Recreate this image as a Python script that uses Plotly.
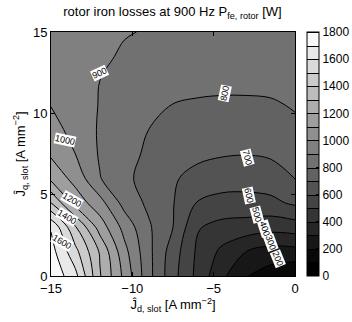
import plotly.graph_objects as go

# grid coordinates (A/mm^2)
jd = [-15, -13.5, -12, -10.5, -9, -7.5, -6, -4.5, -3, -1.5, 0]
jq = [0, 1.5, 3, 4.5, 6, 7.5, 9, 10.5, 12, 13.5, 15]

# rotor iron losses [W], one row per jq value
p_y00 = [1780, 1630, 1310, 1075, 833, 633, 473, 322, 205, 150, 110]
p_y15 = [1740, 1530, 1290, 1033, 827, 650, 483, 379, 300, 260, 265]
p_y30 = [1690, 1410, 1157, 967, 814, 700, 508, 467, 456, 437, 450]
p_y45 = [1400, 1160, 1037, 865, 780, 705, 595, 569, 567, 575, 618]
p_y60 = [1177, 1064, 905, 824, 762, 710, 671, 645, 642, 655, 702]
p_y75 = [1085, 1000, 890, 831, 785, 760, 720, 708, 703, 712, 739]
p_y90 = [1041, 962, 890, 847, 800, 775, 760, 750, 748, 755, 775]
p_y105 = [997, 957, 895, 867, 831, 797, 785, 780, 780, 785, 810]
p_y120 = [980, 950, 900, 880, 860, 845, 835, 830, 830, 835, 840]
p_y135 = [970, 945, 915, 890, 875, 862, 855, 850, 850, 852, 855]
p_y150 = [960, 940, 920, 905, 895, 880, 870, 865, 862, 862, 865]

# contour labels: value, jd, jq, angle
label_vals = [1600, 1400, 1200, 1000, 900, 800, 700, 600, 500, 400, 300, 200]
label_jd = [-14.32, -14.02, -13.71, -14.14, -11.99, -4.31, -2.95, -2.83, -2.34, -1.85, -1.48, -1.05]
label_jq = [2.09, 3.63, 4.67, 8.36, 12.48, 11.25, 7.31, 4.92, 3.75, 2.89, 2.03, 1.04]
label_ang = [30, 30, 30, 12, -25, -78, 75, 78, 75, 72, 70, 68]

z = [p_y00, p_y15, p_y30, p_y45, p_y60, p_y75, p_y90, p_y105, p_y120, p_y135, p_y150]

font = "Liberation Sans, Arial, sans-serif"

fig = go.Figure()
fig.add_trace(go.Contour(
    x=jd, y=jq, z=z,
    zmin=0, zmax=1800,
    colorscale=[[0, "black"], [1, "white"]],
    contours=dict(start=100, end=1800, size=100, coloring="fill"),
    line=dict(color="black", width=1, smoothing=1.0),
    colorbar=dict(
        x=1.049, xanchor="left", xpad=0, y=0.5, yanchor="middle",
        len=1, lenmode="fraction", thickness=12, ypad=0,
        outlinecolor="black", outlinewidth=1,
        tickvals=[0, 200, 400, 600, 800, 1000, 1200, 1400, 1600, 1800],
        ticks="inside", ticklen=3, tickcolor="black",
        tickfont=dict(family=font, size=12, color="black"),
    ),
))

for v, xx, yy, a in zip(label_vals, label_jd, label_jq, label_ang):
    fig.add_annotation(
        x=xx, y=yy, text=str(v), showarrow=False, textangle=a,
        font=dict(family=font, size=9, color="black"),
        bgcolor="white", borderpad=0,
    )

axis_common = dict(
    showgrid=False, zeroline=False, ticks="inside", ticklen=4,
    tickcolor="black", mirror="ticks", showline=True, linecolor="black",
    linewidth=1, tickfont=dict(family=font, size=13, color="black"),
    automargin=False,
)

fig.update_layout(
    width=352, height=322,
    margin=dict(l=51, r=57, t=32, b=46, autoexpand=False),
    paper_bgcolor="white", plot_bgcolor="white",
    title=dict(
        text="rotor iron losses at 900 Hz P<sub>fe, rotor</sub> [W]",
        x=0.49, xanchor="center", y=0.965, yanchor="middle",
        font=dict(family=font, size=13, color="black"),
    ),
    xaxis=dict(range=[-15, 0], tickvals=[-15, -10, -5, 0],
               ticktext=["\u221215", "\u221210", "\u22125", "0"],
               title=dict(text="\u0134<sub>d, slot</sub> [A mm<sup>\u22122</sup>]",
                          font=dict(family=font, size=13, color="black"),
                          standoff=2),
               **axis_common),
    yaxis=dict(range=[0, 15], tickvals=[0, 5, 10, 15],
               title=dict(text="\u0134<sub>q, slot</sub> [A mm<sup>\u22122</sup>]",
                          font=dict(family=font, size=13, color="black"),
                          standoff=4),
               **axis_common),
    showlegend=False,
)

fig.write_html("out.html", config={"displayModeBar": False},
               post_script="document.body.style.margin='0';")
